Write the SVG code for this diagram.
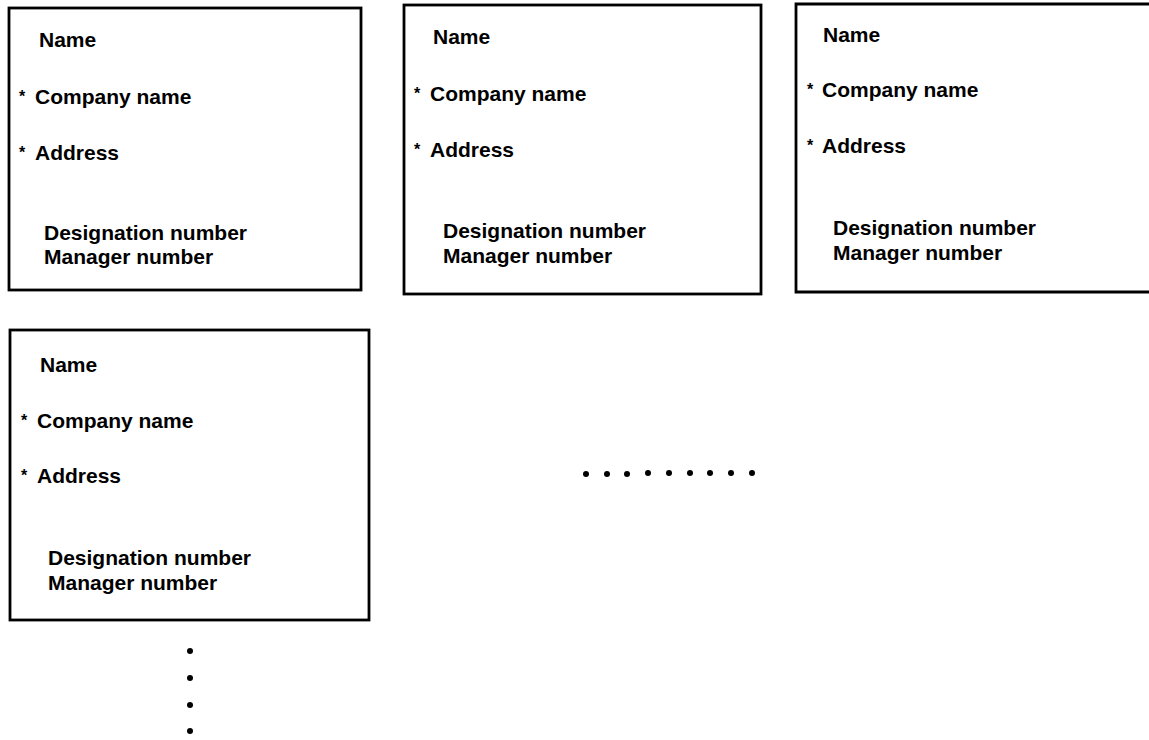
<svg xmlns="http://www.w3.org/2000/svg" width="1149" height="740" viewBox="0 0 1149 740">
<style>
.box{fill:none;stroke:#000;stroke-width:2.8}
text{font-family:"Liberation Sans",Arial,sans-serif;font-size:21px;font-weight:bold;fill:#000}
.ast{font-size:16px}
.dot{fill:#000}
</style>
<rect width="1149" height="740" fill="#fff"/>
<g id="node1">
<rect class="box" x="9" y="8" width="352" height="282"/>
<text x="39" y="47">Name</text>
<text class="ast" x="19" y="102">*</text>
<text x="35" y="104">Company name</text>
<text class="ast" x="19" y="158">*</text>
<text x="35" y="160">Address</text>
<text x="44" y="240">Designation number</text>
<text x="44" y="264">Manager number</text>
</g>
<g id="node2">
<rect class="box" x="404" y="5" width="357" height="289"/>
<text x="433" y="44">Name</text>
<text class="ast" x="414" y="99">*</text>
<text x="430" y="101">Company name</text>
<text class="ast" x="414" y="155">*</text>
<text x="430" y="157">Address</text>
<text x="443" y="238">Designation number</text>
<text x="443" y="263">Manager number</text>
</g>
<g id="node3">
<path class="box" d="M1152,4 H796 V292 H1152"/>
<text x="823" y="42">Name</text>
<text class="ast" x="807" y="95">*</text>
<text x="822" y="97">Company name</text>
<text class="ast" x="807" y="151">*</text>
<text x="822" y="153">Address</text>
<text x="833" y="235">Designation number</text>
<text x="833" y="260">Manager number</text>
</g>
<g id="node4">
<rect class="box" x="10" y="330" width="359" height="290"/>
<text x="40" y="372">Name</text>
<text class="ast" x="21" y="426">*</text>
<text x="37" y="428">Company name</text>
<text class="ast" x="21" y="481">*</text>
<text x="37" y="483">Address</text>
<text x="48" y="565">Designation number</text>
<text x="48" y="590">Manager number</text>
</g>
<g id="connectors">
<g id="hdots" class="dot">
<circle cx="586" cy="474" r="3"/>
<circle cx="607" cy="474" r="3"/>
<circle cx="627" cy="474" r="3"/>
<circle cx="648" cy="473" r="3"/>
<circle cx="669" cy="473" r="3"/>
<circle cx="690" cy="473" r="3"/>
<circle cx="710" cy="473" r="3"/>
<circle cx="731" cy="473" r="3"/>
<circle cx="752" cy="473" r="3"/>
</g>
<g id="vdots" class="dot">
<circle cx="190" cy="651" r="3"/>
<circle cx="190" cy="678" r="3"/>
<circle cx="190" cy="705" r="3"/>
<circle cx="190" cy="731" r="3"/>
</g>
</g>
</svg>
